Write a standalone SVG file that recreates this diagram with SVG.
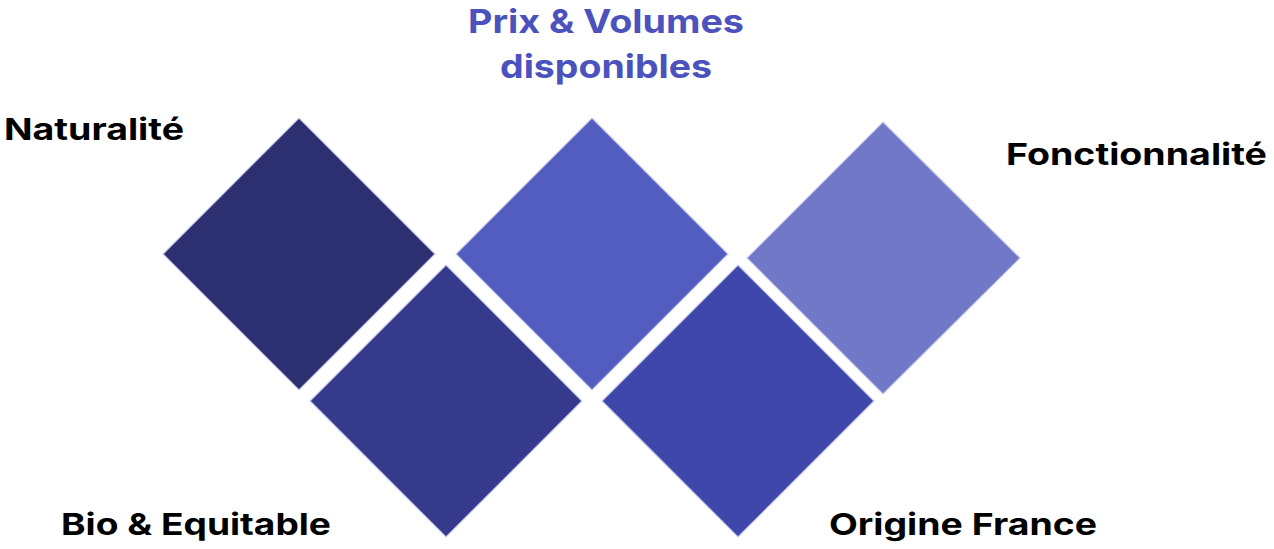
<svg xmlns="http://www.w3.org/2000/svg" width="1274" height="549" viewBox="0 0 1274 549">
<style>
.lbl{font-family:Inter,"Liberation Sans",sans-serif;font-weight:700;font-size:30px;fill:#000}
.ttl{fill:#4B52BD;font-size:33px}
.d{stroke:#C9CBEA;stroke-width:1.2}
</style>
<rect width="1274" height="549" fill="#fff"/>
<g id="node-naturalite"><polygon class="d" points="299,118 435,254 299,390 163,254" fill="#2C2F70"/></g>
<g id="node-bio"><polygon class="d" points="446,265 582,401 446,537 310,401" fill="#363A8C"/></g>
<g id="node-prix"><polygon class="d" points="592,118 728,254 592,390 456,254" fill="#535CBF"/></g>
<g id="node-origine"><polygon class="d" points="738,265 874,401 738,537 602,401" fill="#3F47AB"/></g>
<g id="node-fonction"><polygon class="d" points="883,122 1020,258 883,394 747,258" fill="#7278C8"/></g>
<g id="connectors"></g>
<g id="labels">
<text class="lbl" x="4" y="140" textLength="180" lengthAdjust="spacingAndGlyphs">Naturalité</text>
<text class="lbl ttl" x="468" y="33" textLength="276" lengthAdjust="spacingAndGlyphs">Prix &amp; Volumes</text>
<text class="lbl ttl" x="500" y="78" textLength="212" lengthAdjust="spacingAndGlyphs">disponibles</text>
<text class="lbl" x="1006" y="165" textLength="261" lengthAdjust="spacingAndGlyphs">Fonctionnalité</text>
<text class="lbl" x="61" y="535" textLength="270" lengthAdjust="spacingAndGlyphs">Bio &amp; Equitable</text>
<text class="lbl" x="829" y="535" textLength="268" lengthAdjust="spacingAndGlyphs">Origine France</text>
</g>
</svg>
